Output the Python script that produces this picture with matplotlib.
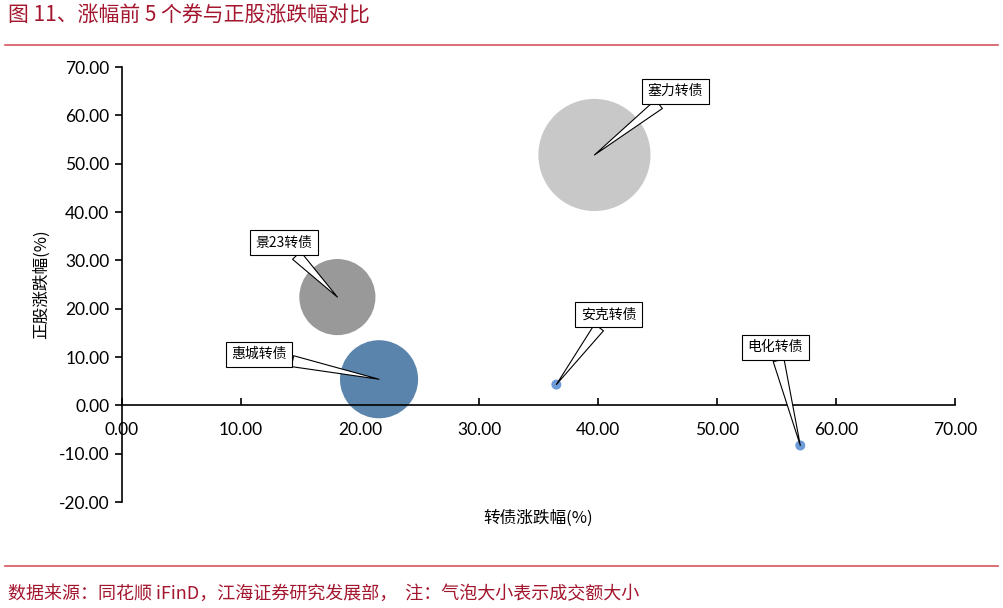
import matplotlib.pyplot as plt

plt.rcParams['font.family'] = ['Noto Sans CJK SC', 'DejaVu Sans']

# 数据：转债涨跌幅 / 正股涨跌幅 / 成交额(相对大小)
names = ['塞力转债', '景23转债', '惠城转债', '安克转债', '电化转债']
bond_chg = [39.7, 18.1, 21.6, 36.5, 57.0]
stock_chg = [51.8, 22.4, 5.4, 4.3, -8.3]
turnover = [62.7, 28.9, 30.4, 0.5, 0.5]
colors = ['#C8C8C8', '#999999', '#5A84AC', '#6D9BD8', '#6D9BD8']
label_pos = [(46.5, 65.0), (13.6, 33.7), (11.5, 10.6), (40.9, 18.8), (54.9, 12.0)]

xticks = [0, 10, 20, 30, 40, 50, 60, 70]
yticks = [-20, -10, 0, 10, 20, 30, 40, 50, 60, 70]

red = '#A3162E'
line_red = '#D4545C'
num_font = ['Lato', 'Noto Sans CJK SC']

fig = plt.figure(figsize=(10.04, 6.08), dpi=100)
ax = fig.add_axes([0.1215, 0.1743, 0.8297, 0.7155])

ax.scatter(bond_chg, stock_chg, s=[v * 104 for v in turnover], c=colors,
           edgecolors='none', zorder=2)

for name, x, y, (lx, ly) in zip(names, bond_chg, stock_chg, label_pos):
    ax.annotate(name, xy=(x, y), xytext=(lx, ly), ha='center', va='center',
                fontsize=10, zorder=5,
                bbox=dict(boxstyle='square,pad=0.4', fc='white', ec='black', lw=0.8),
                arrowprops=dict(arrowstyle='wedge,tail_width=0.8,shrink_factor=0.5',
                                fc='white', ec='black', lw=0.8,
                                shrinkA=0, shrinkB=0))

# 先定位坐标轴，再设刻度（set_position 会重置刻度）
ax.spines['top'].set_visible(False)
ax.spines['right'].set_visible(False)
ax.spines['bottom'].set_position(('data', 0))
ax.spines['bottom'].set_linewidth(1.2)
ax.spines['left'].set_linewidth(1.2)

ax.set_xlim(0, 70)
ax.set_ylim(-20, 70)
ax.set_xticks(xticks)
ax.set_yticks(yticks)
ax.set_xticklabels([f'{v:.2f}' for v in xticks], family=num_font, fontsize=12.5)
ax.set_yticklabels([f'{v:.2f}' for v in yticks], family=num_font, fontsize=12.5)
ax.tick_params(axis='x', direction='in', length=5, width=1.2, pad=12)
ax.tick_params(axis='y', direction='out', length=5, width=1.2, pad=4)

ax.set_xlabel('转债涨跌幅(%)', fontsize=12, labelpad=0)
ax.xaxis.set_label_coords(0.5, -0.018)
ax.set_ylabel('正股涨跌幅(%)', fontsize=12)
ax.yaxis.set_label_coords(-0.086, 0.5)

# 标题与来源
fig.text(0.008, 0.975, '图 11、涨幅前 5 个券与正股涨跌幅对比', color=red,
         fontsize=15, ha='left', va='center')
fig.add_artist(plt.Line2D([0.005, 0.994], [0.926, 0.926], color=line_red, lw=1.2))
fig.add_artist(plt.Line2D([0.005, 0.994], [0.069, 0.069], color=line_red, lw=1.2))
fig.text(0.008, 0.023, '数据来源：同花顺 iFinD，江海证券研究发展部，  注：气泡大小表示成交额大小',
         color=red, fontsize=13, ha='left', va='center')

fig.savefig('out.png', dpi=100)
